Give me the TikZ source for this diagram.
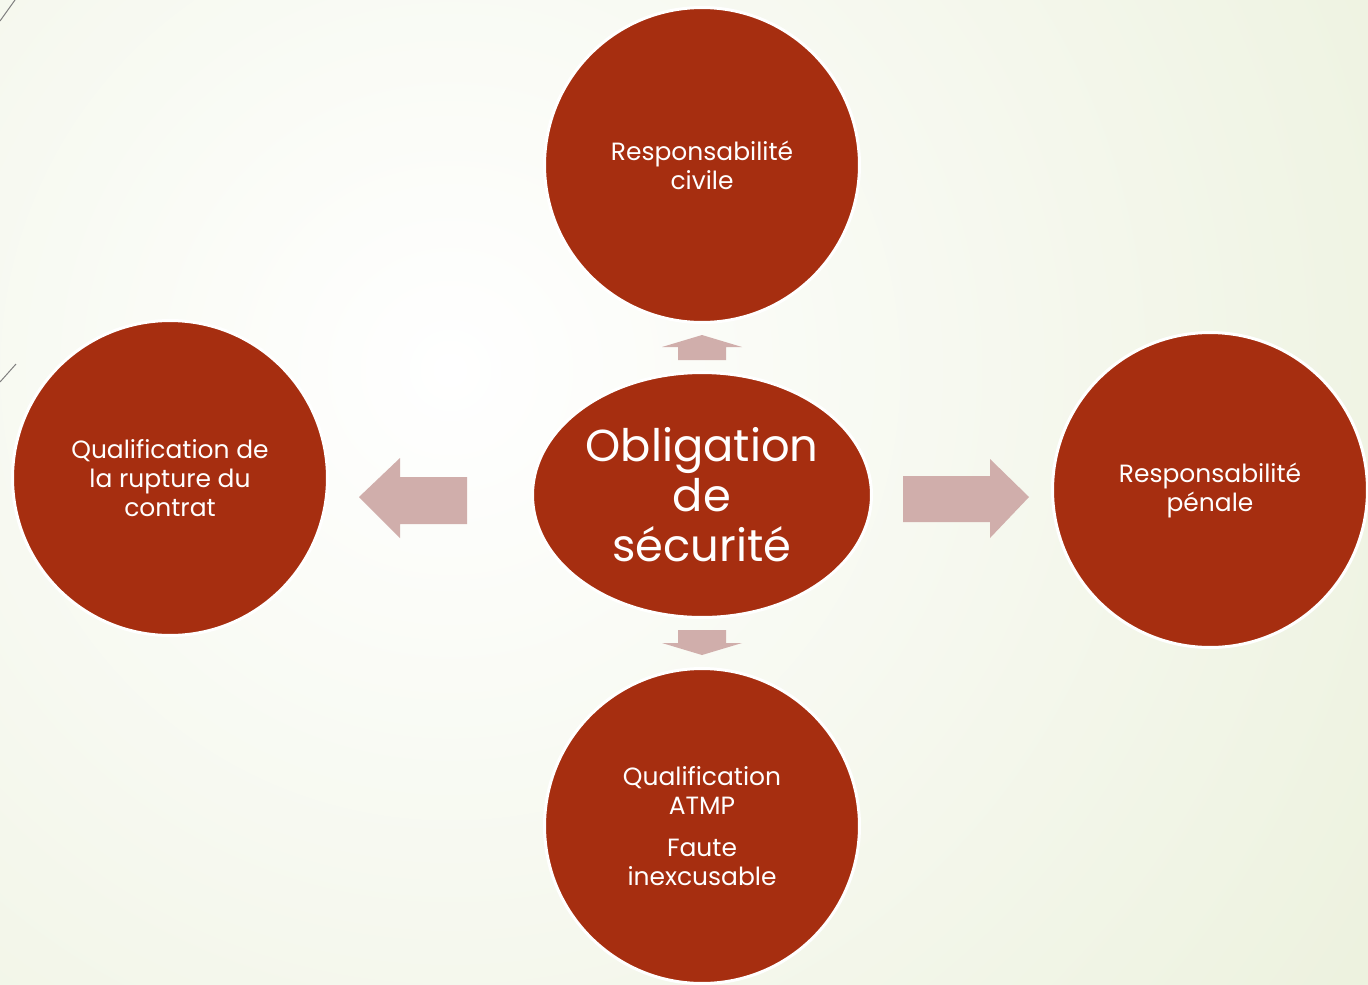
\documentclass[tikz,border=0pt]{standalone}
\usepackage{fontspec}
\setmainfont{Poppins}
\usetikzlibrary{shapes.geometric}
\definecolor{brique}{RGB}{166,46,16}
\definecolor{rosepale}{RGB}{208,174,171}
\definecolor{fond}{RGB}{225,233,202}
\tikzset{
  bulle/.style={circle,fill=brique,draw=white,line width=0.06cm,minimum size=6.3cm,inner sep=0pt,
    text=white,align=center,font=\fontsize{14.2}{16.5}\selectfont},
  centre/.style={ellipse,fill=brique,draw=white,line width=0.06cm,minimum width=6.78cm,minimum height=4.9cm,
    inner sep=0pt},
  grostexte/.style={text=white,align=center,font=\fontsize{25.5}{28.5}\selectfont},
  fleche/.style={fill=rosepale}
}
\begin{document}
\begin{tikzpicture}[x=0.02cm,y=-0.02cm]
        % fond
        \begin{scope}
        \clip(0,0)rectangle(1368,984);
        \shade[inner color=white,outer color=fond](450-1800,370-1800)rectangle(450+1800,370+1800);
        \end{scope}
        \useasboundingbox(0,0)rectangle(1368,984);
        \draw[gray,line width=0.02cm](0,21)--(15,0);
        \draw[gray,line width=0.02cm](0,382)--(16,364);
        % bulles
        \node[bulle](civile)at(702,165){Responsabilité\\civile};
        \node[bulle](rupture)at(170,478){Qualification de\\la rupture du\\contrat};
        \node[bulle](penale)at(1210,490){Responsabilité\\pénale};
        \node[bulle](atmp)at(702,826){Qualification\\ATMP\\[7pt]Faute\\inexcusable};
        \node[centre](obligation)at(702,495){};
        \node[grostexte](obligationtexte)at(obligation.center){Obligation\\de\\sécurité};
        % fleches
        \fill[fleche](678,360)--(678,347)--(662,347)--(702,335)--(742,347)--(726,347)--(726,360)--cycle;
        \fill[fleche](678,630)--(726,630)--(726,643)--(742,643)--(702,655)--(662,643)--(678,643)--cycle;
        \fill[fleche](467,477)--(400,477)--(400,458)--(359,497)--(400,538)--(400,524)--(467,524)--cycle;
        \fill[fleche](903,476)--(990,476)--(990,459)--(1029,497)--(990,538)--(990,522)--(903,522)--cycle;
    \end{tikzpicture}
\end{document}
